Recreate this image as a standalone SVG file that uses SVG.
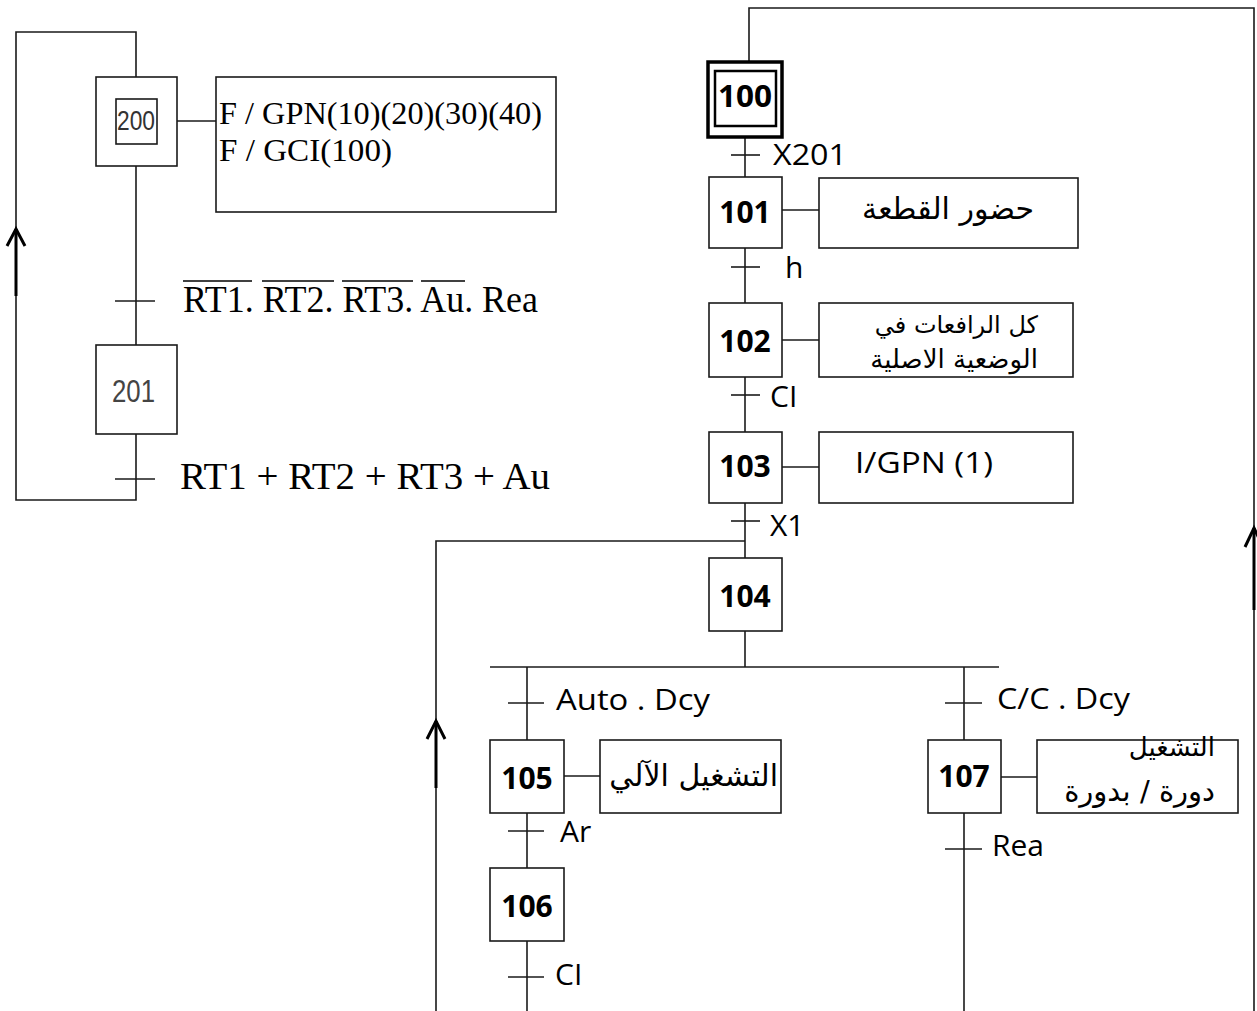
<svg xmlns="http://www.w3.org/2000/svg" width="1257" height="1011" viewBox="0 0 1257 1011">
<style>
.ln{stroke:#1a1a1a;stroke-width:1.6;fill:none}
.thk{stroke:#000;stroke-width:3;fill:none}
.box{stroke:#1a1a1a;stroke-width:1.6;fill:#fff}
.num{font-family:"Open Sans","Liberation Sans",sans-serif;font-weight:bold;font-size:30px;fill:#000;text-anchor:middle}
.lbl{font-family:"Open Sans","Liberation Sans",sans-serif;font-size:30px;fill:#000}
.ar{font-family:"DejaVu Sans","Noto Sans",sans-serif;fill:#000;direction:rtl}
.srf{font-family:"Liberation Serif",serif;fill:#000}
</style>
<rect width="1257" height="1011" fill="#fff"/>
<g id="connectors">
  <polyline class="ln" points="136,77 136,32 16,32 16,500 136,500 136,434"/>
  <line class="thk" x1="16" y1="229" x2="16" y2="296"/>
  <polyline class="thk" points="7,246 16,229 25,246" stroke-width="2.4"/>
  <line class="ln" x1="136" y1="166" x2="136" y2="345"/>
  <line class="ln" x1="115" y1="301" x2="155" y2="301"/>
  <line class="ln" x1="115" y1="479" x2="155" y2="479"/>
  <line class="ln" x1="177" y1="121" x2="216" y2="121"/>
  <polyline class="ln" points="749,62 749,8 1254,8 1254,1011"/>
  <line class="thk" x1="1254" y1="528" x2="1254" y2="610"/>
  <polyline class="thk" points="1245,547 1254,528 1263,547" stroke-width="2.4"/>
  <line class="ln" x1="745" y1="137" x2="745" y2="177"/>
  <line class="ln" x1="731" y1="155" x2="760" y2="155"/>
  <line class="ln" x1="782" y1="210" x2="819" y2="210"/>
  <line class="ln" x1="745" y1="248" x2="745" y2="303"/>
  <line class="ln" x1="731" y1="267" x2="760" y2="267"/>
  <line class="ln" x1="782" y1="340" x2="819" y2="340"/>
  <line class="ln" x1="745" y1="377" x2="745" y2="432"/>
  <line class="ln" x1="731" y1="395" x2="760" y2="395"/>
  <line class="ln" x1="782" y1="467" x2="819" y2="467"/>
  <line class="ln" x1="745" y1="503" x2="745" y2="558"/>
  <line class="ln" x1="731" y1="521" x2="760" y2="521"/>
  <polyline class="ln" points="745,541 436,541 436,1011"/>
  <line class="thk" x1="436" y1="721" x2="436" y2="788"/>
  <polyline class="thk" points="427,739 436,721 445,739" stroke-width="2.4"/>
  <line class="ln" x1="745" y1="631" x2="745" y2="667"/>
  <line class="ln" x1="490" y1="667" x2="999" y2="667"/>
  <line class="ln" x1="527" y1="667" x2="527" y2="740"/>
  <line class="ln" x1="508" y1="703" x2="544" y2="703"/>
  <line class="ln" x1="564" y1="776" x2="600" y2="776"/>
  <line class="ln" x1="527" y1="813" x2="527" y2="868"/>
  <line class="ln" x1="508" y1="831" x2="544" y2="831"/>
  <line class="ln" x1="527" y1="941" x2="527" y2="1011"/>
  <line class="ln" x1="508" y1="977" x2="544" y2="977"/>
  <line class="ln" x1="964" y1="667" x2="964" y2="740"/>
  <line class="ln" x1="945" y1="703" x2="982" y2="703"/>
  <line class="ln" x1="1001" y1="777" x2="1037" y2="777"/>
  <line class="ln" x1="964" y1="813" x2="964" y2="1011"/>
  <line class="ln" x1="945" y1="849" x2="982" y2="849"/>
</g>
<g id="step200">
  <rect class="box" x="96" y="77" width="81" height="89"/>
  <rect class="box" x="116" y="99" width="41" height="45"/>
  <text x="117" y="130" font-family="Liberation Sans,sans-serif" font-size="27" fill="#333" textLength="38" lengthAdjust="spacingAndGlyphs">200</text>
</g>
<g id="action200">
  <rect class="box" x="216" y="77" width="340" height="135"/>
  <text class="srf" x="219" y="124" font-size="31" textLength="323" lengthAdjust="spacingAndGlyphs">F / GPN(10)(20)(30)(40)</text>
  <text class="srf" x="219" y="161" font-size="31" textLength="173" lengthAdjust="spacingAndGlyphs">F / GCI(100)</text>
</g>
<g id="t200">
  <text class="srf" x="183" y="312" font-size="37" textLength="355" lengthAdjust="spacingAndGlyphs">RT1. RT2. RT3. Au. Rea</text>
  <g stroke="#000" stroke-width="1.4">
    <line x1="183" y1="281" x2="252" y2="281"/>
    <line x1="262" y1="281" x2="334" y2="281"/>
    <line x1="342" y1="281" x2="413" y2="281"/>
    <line x1="421" y1="281" x2="465" y2="281"/>
  </g>
</g>
<g id="step201">
  <rect class="box" x="96" y="345" width="81" height="89"/>
  <text x="112" y="402" font-family="Liberation Sans,sans-serif" font-size="31" fill="#444" textLength="43" lengthAdjust="spacingAndGlyphs">201</text>
</g>
<g id="t201">
  <text class="srf" x="180" y="489" font-size="37" textLength="370" lengthAdjust="spacingAndGlyphs">RT1 + RT2 + RT3 + Au</text>
</g>
<g id="step100">
  <rect x="708" y="62" width="74" height="75" fill="#fff" stroke="#000" stroke-width="3.5"/>
  <rect x="715" y="71" width="61" height="55" fill="none" stroke="#000" stroke-width="2.5"/>
  <text class="num" x="745" y="107" textLength="54" lengthAdjust="spacingAndGlyphs">100</text>
</g>
<g id="t100"><text class="lbl" x="773" y="165" textLength="74" lengthAdjust="spacingAndGlyphs">X201</text></g>
<g id="step101">
  <rect class="box" x="709" y="177" width="73" height="71"/>
  <text class="num" x="745" y="223">101</text>
</g>
<g id="action101">
  <rect class="box" x="819" y="178" width="259" height="70"/>
  <text class="ar" x="948" y="219" text-anchor="middle" style="font-size:30px">حضور القطعة</text>
</g>
<g id="t101"><text class="lbl" x="785" y="278">h</text></g>
<g id="step102">
  <rect class="box" x="709" y="303" width="73" height="74"/>
  <text class="num" x="745" y="352">102</text>
</g>
<g id="action102">
  <rect class="box" x="819" y="303" width="254" height="74"/>
  <text class="ar" x="1038" y="333" text-anchor="start" style="font-size:24px">كل الرافعات في</text>
  <text class="ar" x="1038" y="368" text-anchor="start" style="font-size:26px">الوضعية الاصلية</text>
</g>
<g id="t102"><text class="lbl" x="770" y="407">CI</text></g>
<g id="step103">
  <rect class="box" x="709" y="432" width="73" height="71"/>
  <text class="num" x="745" y="477">103</text>
</g>
<g id="action103">
  <rect class="box" x="819" y="432" width="254" height="71"/>
  <text class="lbl" x="855" y="473" textLength="138" lengthAdjust="spacingAndGlyphs">I/GPN (1)</text>
</g>
<g id="t103"><text class="lbl" x="770" y="536">X1</text></g>
<g id="step104">
  <rect class="box" x="709" y="558" width="73" height="73"/>
  <text class="num" x="745" y="607">104</text>
</g>
<g id="t104a"><text class="lbl" x="556" y="710" textLength="154" lengthAdjust="spacingAndGlyphs">Auto . Dcy</text></g>
<g id="step105">
  <rect class="box" x="490" y="740" width="74" height="73"/>
  <text class="num" x="527" y="789">105</text>
</g>
<g id="action105">
  <rect class="box" x="600" y="740" width="181" height="73"/>
  <text class="ar" x="778" y="786" text-anchor="start" style="font-size:30px">التشغيل الآلي</text>
</g>
<g id="t105"><text class="lbl" x="560" y="842">Ar</text></g>
<g id="step106">
  <rect class="box" x="490" y="868" width="74" height="73"/>
  <text class="num" x="527" y="917">106</text>
</g>
<g id="t106"><text class="lbl" x="555" y="985">CI</text></g>
<g id="t104b"><text class="lbl" x="997" y="709" textLength="133" lengthAdjust="spacingAndGlyphs">C/C . Dcy</text></g>
<g id="step107">
  <rect class="box" x="928" y="740" width="73" height="73"/>
  <text class="num" x="964" y="787">107</text>
</g>
<g id="action107">
  <rect class="box" x="1037" y="740" width="201" height="73"/>
  <text class="ar" x="1215" y="756" text-anchor="start" style="font-size:26px">التشغيل</text>
  <text class="ar" x="1215" y="801" text-anchor="start" style="font-size:29px">دورة / بدورة</text>
</g>
<g id="t107"><text class="lbl" x="992" y="856">Rea</text></g>
</svg>
